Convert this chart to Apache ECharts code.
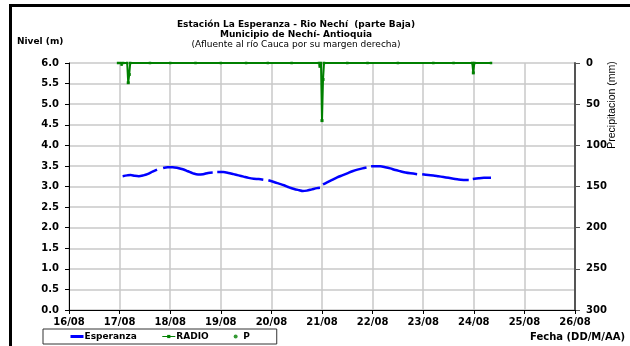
<!DOCTYPE html>
<html>
<head>
<meta charset="utf-8">
<script src="https://cdn.jsdelivr.net/npm/echarts@6/dist/echarts.min.js"></script>
<style>
  html, body { margin: 0; padding: 0; background: #fff; }
  #chart { position: absolute; left: 0; top: 0; width: 630px; height: 346px; }
  #frame { position: absolute; left: 9px; top: 4px; width: 640px; height: 360px;
           border-left: 3px solid #000; border-top: 3px solid #000; pointer-events: none; }
</style>
</head>
<body>
<div id="chart"></div>
<div id="frame"></div>
<script>
// ---- data (day of August, decimal) ----
const xTickLabels = ['16/08','17/08','18/08','19/08','20/08','21/08','22/08','23/08','24/08','25/08','26/08'];
const leftTicks = ['0.0','0.5','1.0','1.5','2.0','2.5','3.0','3.5','4.0','4.5','5.0','5.5','6.0'];

const esperanzaDay = [
  17.06,17.15,17.22,17.30,17.38,17.47,17.55,17.65,17.74,17.80,17.86,17.95,
  18.05,18.15,18.25,18.35,18.45,18.55,18.65,18.75,18.84,18.88,18.93,
  19.05,19.15,19.25,19.35,19.45,19.55,19.65,19.75,19.84,19.89,19.94,
  20.05,20.15,20.25,20.35,20.45,20.55,20.62,20.70,20.80,20.90,20.96,20.99,
  21.02,21.10,21.20,21.30,21.40,21.50,21.60,21.70,21.80,21.88,21.92,21.97,
  22.05,22.15,22.25,22.35,22.45,22.55,22.65,22.75,22.88,22.94,22.98,
  23.10,23.20,23.30,23.40,23.50,23.60,23.70,23.80,23.90,23.95,23.98,
  24.10,24.20,24.34
];
const esperanzaLevel = [
  3.25,3.27,3.28,3.26,3.25,3.27,3.30,3.36,3.41,null,3.45,3.47,
  3.47,3.45,3.42,3.37,3.32,3.29,3.30,3.33,3.34,null,3.35,
  3.35,3.33,3.30,3.27,3.24,3.21,3.19,3.18,3.165,null,3.15,
  3.11,3.07,3.03,2.98,2.94,2.91,2.89,2.90,2.93,2.96,2.97,null,
  3.05,3.10,3.16,3.22,3.27,3.32,3.37,3.41,3.44,3.46,null,3.49,
  3.49,3.49,3.47,3.44,3.40,3.37,3.34,3.32,3.30,null,3.30,
  3.28,3.27,3.25,3.23,3.21,3.19,3.17,3.16,3.155,null,3.18,
  3.20,3.21,3.21
];

const radioDay = [16.97,17.02,17.04,17.07,17.15,17.17,17.19,17.21,17.60,18.00,18.50,19.00,19.50,19.93,20.40,20.94,20.96,20.98,21.00,21.02,21.04,21.50,21.90,22.50,23.20,23.60,23.97,23.99,24.01,24.34];
const radioMm  = [0,0,2,0,0,24,14,0,0,0,0,0,0,0,0,0,4,0,70,20,0,0,0,0,0,0,0,12,0,0];

const pDay = [17.17,17.19,20.96,21.00,21.02,23.99];
const pMm  = [24,14,4,70,20,12];

const FONT = 'DejaVu Sans';
const chart = echarts.init(document.getElementById('chart'), null, {renderer: 'canvas'});

chart.setOption({
  animation: false,
  backgroundColor: '#fff',
  title: {
    text: 'Estación La Esperanza - Rio Nechí  (parte Baja)\nMunicipio de Nechí- Antioquia',
    subtext: '(Afluente al río Cauca por su margen derecha)',
    left: 291, top: 15, textAlign: 'center', itemGap: 0,
    textStyle: {fontFamily: FONT, fontWeight: 'bold', fontSize: 9, lineHeight: 10, color: '#000'},
    subtextStyle: {fontFamily: FONT, fontWeight: 'normal', fontSize: 9, lineHeight: 10, color: '#000'}
  },
  grid: {left: 69, right: 55, top: 63, bottom: 36},
  legend: {
    left: 43, top: 329, orient: 'horizontal',
    padding: [3, 27, 3, 26],
    itemWidth: 13, itemHeight: 4, itemGap: 25,
    borderColor: '#333', borderWidth: 1, backgroundColor: '#fff',
    textStyle: {fontFamily: FONT, fontWeight: 'bold', fontSize: 9, color: '#000', padding: [0,0,0,-4]},
    data: [
      {name: 'Esperanza', itemStyle: {opacity: 0}, lineStyle: {width: 3}},
      {name: 'RADIO', lineStyle: {width: 1}},
      {name: 'P', icon: 'circle'}
    ]
  },
  xAxis: {
    type: 'value', min: 16, max: 26, interval: 1,
    axisLine: {show: true, lineStyle: {color: '#000', width: 1}},
    axisTick: {show: true, length: 4, lineStyle: {color: '#000'}},
    axisLabel: {
      fontFamily: FONT, fontWeight: 'bold', fontSize: 10, color: '#000', margin: 7,
      formatter: v => xTickLabels[Math.round(v - 16)]
    },
    splitLine: {show: true, lineStyle: {color: '#c8c8c8', width: 1.5}}
  },
  yAxis: [
    {
      type: 'value', min: 0, max: 6, interval: 0.5,
      axisLine: {show: true, lineStyle: {color: '#000', width: 1}},
      axisTick: {show: true, length: 4, lineStyle: {color: '#000'}},
      axisLabel: {
        fontFamily: FONT, fontWeight: 'bold', fontSize: 10, color: '#000', margin: 10,
        formatter: v => leftTicks[Math.round(v * 2)]
      },
      splitLine: {show: true, lineStyle: {color: '#c8c8c8', width: 1.5}}
    },
    {
      type: 'value', min: 0, max: 300, interval: 50, inverse: true, position: 'right',
      axisLine: {show: true, lineStyle: {color: '#555', width: 2}},
      axisTick: {show: true, length: 5, lineStyle: {color: '#555'}},
      axisLabel: {fontFamily: FONT, fontWeight: 'bold', fontSize: 10, color: '#000', margin: 11},
      splitLine: {show: false}
    }
  ],
  graphic: [
    {type: 'text', left: 17, top: 37,
     style: {text: 'Nivel (m)', fontFamily: FONT, fontWeight: 'bold', fontSize: 9, fill: '#000'}},
    {type: 'text', right: 5, top: 332,
     style: {text: 'Fecha (DD/M/AA)', fontFamily: FONT, fontWeight: 'bold', fontSize: 10, fill: '#000'}},
    {type: 'text', x: 612, y: 105, rotation: Math.PI / 2,
     style: {text: 'Precipitacion (mm)', fontFamily: 'Liberation Sans', fontSize: 10.5, fill: '#000',
             align: 'center', verticalAlign: 'middle'}}
  ],
  series: [
    {
      name: 'Esperanza', type: 'line', xAxisIndex: 0, yAxisIndex: 0,
      symbol: 'none', connectNulls: false, smooth: 0.3,
      itemStyle: {color: '#0000ff'},
      lineStyle: {color: '#0000ff', width: 2.5},
      data: esperanzaDay.map((d, i) => [d, esperanzaLevel[i]])
    },
    {
      name: 'RADIO', type: 'line', xAxisIndex: 0, yAxisIndex: 1,
      symbol: 'rect', symbolSize: 2.5, showAllSymbol: true,
      itemStyle: {color: '#008000'},
      lineStyle: {color: '#008000', width: 2},
      data: radioDay.map((d, i) => [d, radioMm[i]])
    },
    {
      name: 'P', type: 'scatter', xAxisIndex: 0, yAxisIndex: 1,
      symbol: 'rect', symbolSize: 3,
      itemStyle: {color: '#008000'},
      data: pDay.map((d, i) => [d, pMm[i]])
    }
  ]
});
</script>
</body>
</html>
